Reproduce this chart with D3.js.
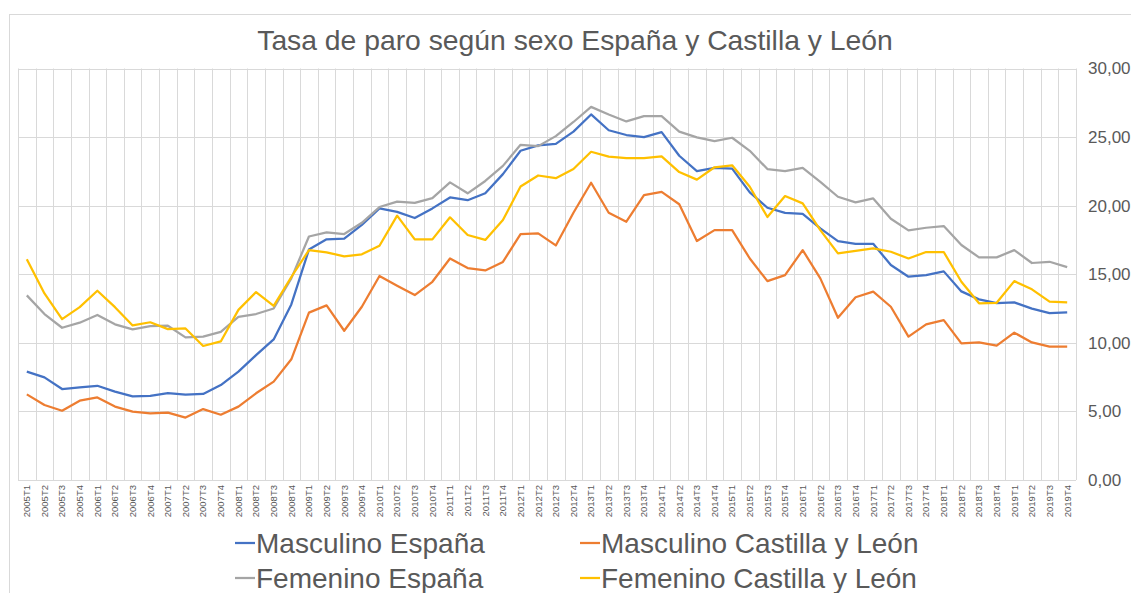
<!DOCTYPE html>
<html>
<head>
<meta charset="utf-8">
<script src="https://cdn.jsdelivr.net/npm/d3@7"></script>
<style>
  body { margin: 0; background: #fff; }
  svg { display: block; font-family: "Liberation Sans", Arial, sans-serif; }
</style>
</head>
<body>
<svg id="chart" width="1131" height="593"></svg>
<script>
// quarters 2005T1 .. 2019T4
const years = [2005, 2006, 2007, 2008, 2009, 2010, 2011, 2012, 2013, 2014, 2015, 2016, 2017, 2018, 2019];
const quarters = ["T1", "T2", "T3", "T4"];
const categories = years.flatMap(y => quarters.map(q => y + q));

const masculinoEspana = [7.9, 7.48, 6.63, 6.75, 6.87, 6.44, 6.1, 6.14, 6.34, 6.22, 6.27, 6.92, 7.9, 9.1, 10.25,
  12.8, 16.8, 17.55, 17.6, 18.6, 19.8, 19.55, 19.1, 19.8, 20.6, 20.4, 20.9, 22.3, 24.0, 24.4,
  24.5, 25.4, 26.65, 25.5, 25.15, 25.0, 25.36, 23.64, 22.52, 22.76, 22.7, 20.97, 19.85, 19.48, 19.4,
  18.35, 17.42, 17.22, 17.22, 15.67, 14.82, 14.94, 15.21, 13.75, 13.17, 12.9, 12.95, 12.49, 12.17, 12.22];

const masculinoCyL = [6.24, 5.47, 5.05, 5.78, 6.02, 5.35, 4.98, 4.86, 4.91, 4.55, 5.17, 4.76, 5.35, 6.32, 7.17,
  8.8, 12.2, 12.73, 10.88, 12.63, 14.87, 14.16, 13.48, 14.45, 16.15, 15.45, 15.28, 15.9, 17.93, 17.98,
  17.1, 19.48, 21.67, 19.48, 18.83, 20.77, 21.0, 20.1, 17.42, 18.22, 18.22, 16.15, 14.5, 14.94, 16.76,
  14.7, 11.83, 13.32, 13.73, 12.63, 10.45, 11.35, 11.66, 9.96, 10.03, 9.79, 10.74, 10.03, 9.72, 9.72];

const femeninoEspana = [13.46, 12.1, 11.1, 11.47, 12.03, 11.35, 10.98, 11.22, 11.25, 10.4, 10.45, 10.8, 11.9, 12.1, 12.5,
  14.7, 17.75, 18.05, 17.93, 18.75, 19.9, 20.3, 20.2, 20.55, 21.7, 20.9, 21.8, 22.9, 24.44, 24.34,
  25.07, 26.1, 27.2, 26.65, 26.14, 26.53, 26.53, 25.4, 24.98, 24.7, 24.95, 24.0, 22.67, 22.52, 22.76,
  21.74, 20.65, 20.24, 20.53, 19.05, 18.2, 18.39, 18.51, 17.13, 16.23, 16.23, 16.76, 15.82, 15.91, 15.52];

const femeninoCyL = [16.1, 13.6, 11.73, 12.6, 13.8, 12.6, 11.27, 11.5, 11.0, 11.05, 9.77, 10.1, 12.4, 13.7, 12.7,
  14.8, 16.76, 16.6, 16.3, 16.45, 17.08, 19.27, 17.54, 17.54, 19.15, 17.86, 17.5, 18.95, 21.4, 22.2,
  22.0, 22.67, 23.93, 23.57, 23.47, 23.47, 23.6, 22.45, 21.9, 22.8, 22.94, 21.38, 19.17, 20.7, 20.17,
  18.22, 16.52, 16.7, 16.89, 16.64, 16.15, 16.62, 16.62, 14.45, 12.88, 12.92, 14.5, 13.9, 13.0, 12.95];

const yTicks = [0, 5, 10, 15, 20, 25, 30];

const series = [
  { name: "Masculino España", values: masculinoEspana, color: "#4472C4" },
  { name: "Masculino Castilla y León", values: masculinoCyL, color: "#ED7D31" },
  { name: "Femenino España", values: femeninoEspana, color: "#A5A5A5" },
  { name: "Femenino Castilla y León", values: femeninoCyL, color: "#FFC000" }
];

const svg = d3.select("#chart");
const textColor = "#595959";
const gridColor = "#d9d9d9";

// chart area border
svg.append("rect")
  .attr("x", 9.5).attr("y", 14.5)
  .attr("width", 1200).attr("height", 700)
  .attr("fill", "none").attr("stroke", gridColor);

const x = d3.scaleBand().domain(categories).range([18, 1076]).padding(0);
const y = d3.scaleLinear().domain([0, 30]).range([480, 68.5]);

// horizontal grid
svg.append("g").selectAll("line")
  .data(yTicks).enter().append("line")
  .attr("x1", 18).attr("x2", 1076)
  .attr("y1", d => Math.round(y(d)) + 0.5).attr("y2", d => Math.round(y(d)) + 0.5)
  .attr("stroke", gridColor).attr("stroke-width", 1);

// vertical grid between categories
const edges = categories.map(c => x(c)).concat([x.range()[1]]);
svg.append("g").selectAll("line")
  .data(edges).enter().append("line")
  .attr("x1", d => Math.round(d) + 0.5).attr("x2", d => Math.round(d) + 0.5)
  .attr("y1", y(30)).attr("y2", y(0))
  .attr("stroke", gridColor).attr("stroke-width", 1);

// y labels on the right
svg.append("g").selectAll("text")
  .data(yTicks).enter().append("text")
  .attr("x", 1088).attr("y", d => y(d))
  .attr("dy", "0.35em")
  .attr("font-size", 17).attr("fill", textColor)
  .text(d => d3.format(".2f")(d).replace(".", ","));

// x labels, rotated
svg.append("g").selectAll("text")
  .data(categories).enter().append("text")
  .attr("transform", d => `translate(${x(d) + x.bandwidth() / 2},485) rotate(-90)`)
  .attr("text-anchor", "end")
  .attr("dy", "0.35em")
  .attr("font-size", 9.5).attr("fill", textColor)
  .text(d => d);

// lines
const line = d3.line()
  .x((d, i) => x(categories[i]) + x.bandwidth() / 2)
  .y(d => y(d));

svg.append("g").selectAll("path")
  .data(series).enter().append("path")
  .attr("d", d => line(d.values))
  .attr("fill", "none")
  .attr("stroke", d => d.color)
  .attr("stroke-width", 2.25)
  .attr("stroke-linejoin", "round");

// title
svg.append("text")
  .attr("x", 575).attr("y", 50)
  .attr("text-anchor", "middle")
  .attr("font-size", 28.3).attr("fill", textColor)
  .text("Tasa de paro según sexo España y Castilla y León");

// legend
const legendPos = [[235, 543], [580, 543], [235, 578], [580, 578]];
const legend = svg.append("g").selectAll("g")
  .data(series).enter().append("g")
  .attr("transform", (d, i) => `translate(${legendPos[i][0]},${legendPos[i][1]})`);
legend.append("line")
  .attr("x1", 0).attr("x2", 20)
  .attr("stroke", d => d.color).attr("stroke-width", 2.25);
legend.append("text")
  .attr("x", 21).attr("y", 10)
  .attr("font-size", 28).attr("fill", textColor)
  .text(d => d.name);
</script>
</body>
</html>
